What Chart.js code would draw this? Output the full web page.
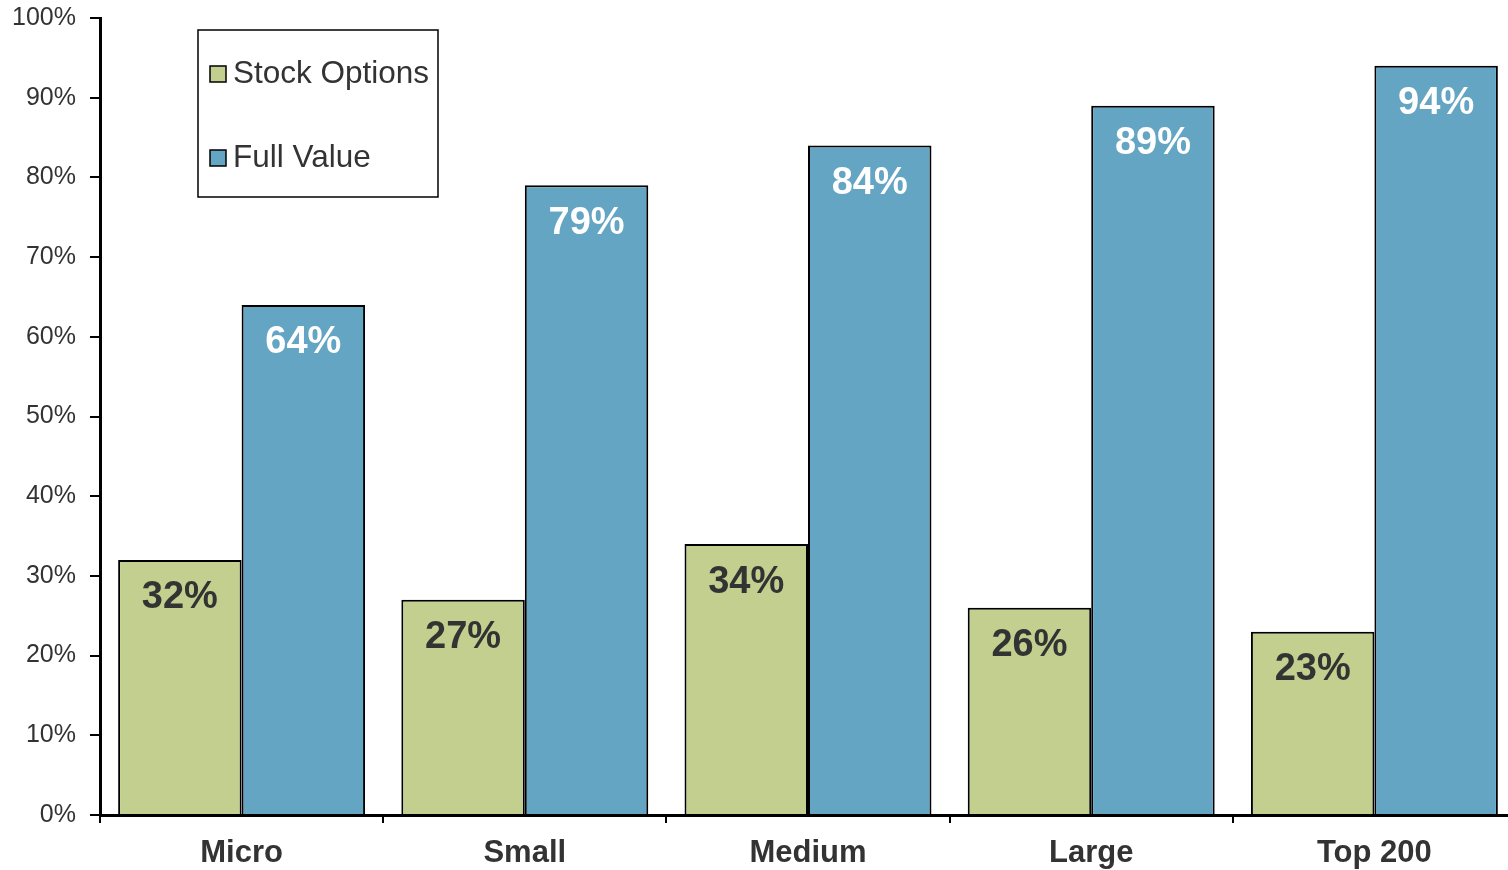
<!DOCTYPE html>
<html>
<head>
<meta charset="utf-8">
<script src="https://cdn.jsdelivr.net/npm/chart.js@4"></script>
<style>
  html, body { margin: 0; padding: 0; background: #fff; overflow: hidden; }
  #wrap { width: 1516px; height: 870px; }
</style>
</head>
<body>
<div id="wrap"><canvas id="myChart"></canvas></div>
<script>
const categories = ['Micro', 'Small', 'Medium', 'Large', 'Top 200'];
const stockOptions = [32, 27, 34, 26, 23];
const fullValue = [64, 79, 84, 89, 94];
const yTicks = [0, 10, 20, 30, 40, 50, 60, 70, 80, 90, 100];

const green = 'rgb(195, 207, 142)';
const blue = 'rgb(99, 165, 195)';
const font = '"Liberation Sans", Arial, sans-serif';

// values printed inside the top of each bar
const barLabels = {
    id: 'barLabels',
    afterDatasetsDraw(chart) {
        const ctx = chart.ctx;
        ctx.save();
        ctx.font = 'bold 38px ' + font;
        ctx.textAlign = 'center';
        ctx.textBaseline = 'middle';
        chart.data.datasets.forEach((ds, i) => {
            chart.getDatasetMeta(i).data.forEach((bar, j) => {
                ctx.fillStyle = ds.labelColor;
                ctx.fillText(ds.data[j] + '%', bar.x, bar.y + 38);
            });
        });
        ctx.restore();
    }
};

// boxed legend in the upper left of the plot
const boxLegend = {
    id: 'boxLegend',
    afterDraw(chart) {
        const ctx = chart.ctx;
        ctx.save();
        ctx.lineWidth = 1.5;
        ctx.strokeStyle = '#000';
        ctx.fillStyle = '#fff';
        ctx.fillRect(198, 30, 240, 167);
        ctx.strokeRect(198, 30, 240, 167);
        ctx.font = '31.5px ' + font;
        ctx.textBaseline = 'middle';
        chart.data.datasets.forEach((ds, i) => {
            const y = 73 + i * 84;
            ctx.fillStyle = ds.backgroundColor;
            ctx.fillRect(210, y - 7, 16, 16);
            ctx.lineWidth = 1.5;
            ctx.strokeRect(210, y - 7, 16, 16);
            ctx.fillStyle = '#333';
            ctx.fillText(ds.label, 233, y + 1);
        });
        ctx.restore();
    }
};

const data = {
    labels: categories,
    datasets: [{
        label: 'Stock Options',
        data: stockOptions,
        backgroundColor: green,
        borderColor: '#000',
        borderWidth: 2,
        labelColor: '#333'
    }, {
        label: 'Full Value',
        data: fullValue,
        backgroundColor: blue,
        borderColor: '#000',
        borderWidth: 2,
        labelColor: '#fff'
    }]
};

const config = {
    type: 'bar',
    data,
    options: {
        responsive: true,
        maintainAspectRatio: false,
        animation: false,
        layout: {
            padding: { top: 18, right: 0, left: 0, bottom: 0 }
        },
        categoryPercentage: 0.872,
        barPercentage: 1,
        plugins: {
            legend: { display: false },
            tooltip: { enabled: false }
        },
        scales: {
            x: {
                grid: {
                    offset: true,
                    drawOnChartArea: false,
                    drawTicks: true,
                    tickLength: 8,
                    color: '#000',
                    lineWidth: 2
                },
                border: { display: true, color: '#000', width: 3 },
                ticks: {
                    color: '#333',
                    font: { family: font, size: 31, weight: 'bold' },
                    padding: 12
                },
                afterFit(scale) {
                    scale.height = 55;
                    scale.paddingLeft = 0;
                    scale.paddingRight = 0;
                }
            },
            y: {
                min: 0,
                max: 100,
                afterBuildTicks(scale) {
                    scale.ticks = yTicks.map(v => ({ value: v }));
                },
                grid: {
                    drawOnChartArea: false,
                    drawTicks: true,
                    tickLength: 10,
                    color: '#000',
                    lineWidth: 2
                },
                border: { display: true, color: '#000', width: 3 },
                ticks: {
                    color: '#333',
                    font: { family: font, size: 25 },
                    padding: 14,
                    callback: v => v + '%'
                },
                afterFit(scale) {
                    scale.width = 100;
                    scale.paddingTop = 0;
                    scale.paddingBottom = 0;
                }
            }
        }
    },
    plugins: [barLabels, boxLegend]
};

var myChart = new Chart(document.getElementById('myChart'), config);
</script>
</body>
</html>
